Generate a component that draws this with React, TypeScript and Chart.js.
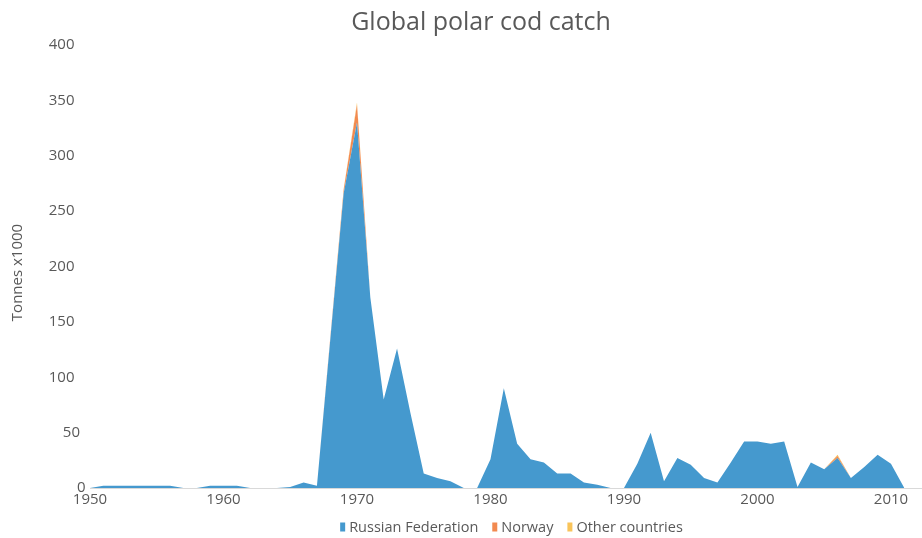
import React, { useEffect, useRef } from "react";
import { Chart, registerables } from "chart.js";

Chart.register(...registerables);

const years = [
  1950, 1951, 1952, 1953, 1954, 1955, 1956, 1957, 1958, 1959,
  1960, 1961, 1962, 1963, 1964, 1965, 1966, 1967, 1968, 1969,
  1970, 1971, 1972, 1973, 1974, 1975, 1976, 1977, 1978, 1979,
  1980, 1981, 1982, 1983, 1984, 1985, 1986, 1987, 1988, 1989,
  1990, 1991, 1992, 1993, 1994, 1995, 1996, 1997, 1998, 1999,
  2000, 2001, 2002, 2003, 2004, 2005, 2006, 2007, 2008, 2009,
  2010, 2011,
];

const russianFederation = [
  0, 2, 2, 2, 2, 2, 2, 0, 0, 2,
  2, 2, 0, 0, 0, 1, 5, 2, 134, 266,
  330, 172, 80, 126, 68, 13, 9, 6, 0, 0,
  26, 90, 40, 26, 23, 13, 13, 5, 3, 0,
  0, 22, 50, 6, 27, 21, 9, 5, 23, 42,
  42, 40, 42, 1, 23, 17, 27, 9, 19, 30,
  22, 0,
];

const norway = [
  0, 0, 0, 0, 0, 0, 0, 0, 0, 0,
  0, 0, 0, 0, 0, 0, 0, 0, 2, 3,
  16, 0, 0, 0, 0, 0, 0, 0, 0, 0,
  0, 0, 0, 0, 0, 0, 0, 0, 0, 0,
  0, 0, 0, 0, 0, 0, 0, 0, 0, 0,
  0, 0, 0, 0, 0, 0, 2, 0, 0, 0,
  0, 0,
];

const otherCountries = [
  0, 0, 0, 0, 0, 0, 0, 0, 0, 0,
  0, 0, 0, 0, 0, 0, 0, 0, 0, 1,
  2, 0, 0, 0, 0, 0, 0, 0, 0, 0,
  0, 0, 0, 0, 0, 0, 0, 0, 0, 0,
  0, 0, 0, 0, 0, 0, 0, 0, 0, 0,
  0, 0, 0, 0, 0, 0, 1, 0, 0, 0,
  0, 0,
];

const seriesNames = ["Russian Federation", "Norway", "Other countries"];
const seriesColors = ["#4599ce", "#f28a50", "#f9c45a"];
const yTickValues = [0, 50, 100, 150, 200, 250, 300, 350, 400];
const chartTitle = "Global polar cod catch";
const yAxisTitle = "Tonnes x1000";

const FONT = "'Open Sans', 'Noto Sans', sans-serif";
const TEXT_COLOR = "#595959";

const toPoints = (vals: number[]) => years.map((x, i) => ({ x, y: vals[i] }));

const textPlugin = {
  id: "customText",
  afterDraw(chart: any) {
    const ctx = chart.ctx;
    const area = chart.chartArea;
    const yScale = chart.scales.y;
    ctx.save();
    // Title
    ctx.fillStyle = TEXT_COLOR;
    ctx.font = `25px ${FONT}`;
    ctx.textAlign = "center";
    ctx.textBaseline = "middle";
    ctx.fillText(chartTitle, 481, 23);

    // Y axis title
    ctx.save();
    ctx.font = `15px ${FONT}`;
    ctx.translate(18, (area.top + area.bottom) / 2 + 6);
    ctx.rotate(-Math.PI / 2);
    ctx.textAlign = "center";
    ctx.textBaseline = "middle";
    ctx.fillText(yAxisTitle, 0, 0);
    ctx.restore();

    // Y tick labels
    ctx.font = `15px ${FONT}`;
    ctx.textAlign = "right";
    ctx.textBaseline = "middle";
    yTickValues.forEach((v) => {
      const label = String(v);
      const y = yScale.getPixelForValue(v);
      const xr = 91 - 5.5 * label.length;
      ctx.fillText(label, xr, y);
    });

    // Legend
    ctx.font = `14.5px ${FONT}`;
    ctx.textAlign = "left";
    const boxW = 5;
    const boxH = 9;
    const gap = 4;
    const itemGap = 14;
    const widths = seriesNames.map((n) => boxW + gap + ctx.measureText(n).width);
    const total = widths.reduce((a, b) => a + b, 0) + itemGap * (widths.length - 1);
    let x = (area.left + area.right) / 2 + 6 - total / 2;
    const ly = 527;
    seriesNames.forEach((n, i) => {
      ctx.fillStyle = seriesColors[i];
      ctx.fillRect(x, ly - boxH / 2, boxW, boxH);
      ctx.fillStyle = TEXT_COLOR;
      ctx.fillText(n, x + boxW + gap, ly + 1);
      x += widths[i] + itemGap;
    });
    ctx.restore();
  },
};

export default function App() {
  const canvasRef = useRef<HTMLCanvasElement | null>(null);

  useEffect(() => {
    document.body.style.margin = "0";
    const canvas = canvasRef.current;
    if (!canvas) return;
    const chart = new Chart(canvas, {
      type: "line",
      data: {
        datasets: [
          {
            label: seriesNames[0],
            data: toPoints(russianFederation),
            backgroundColor: seriesColors[0],
            borderWidth: 0,
            pointRadius: 0,
            fill: "origin",
            tension: 0,
          },
          {
            label: seriesNames[1],
            data: toPoints(norway),
            backgroundColor: seriesColors[1],
            borderWidth: 0,
            pointRadius: 0,
            fill: "-1",
            tension: 0,
          },
          {
            label: seriesNames[2],
            data: toPoints(otherCountries),
            backgroundColor: seriesColors[2],
            borderWidth: 0,
            pointRadius: 0,
            fill: "-1",
            tension: 0,
          },
        ],
      },
      options: {
        animation: false,
        responsive: true,
        maintainAspectRatio: false,
        layout: { padding: { top: 45, right: 1, bottom: 26, left: 0 } },
        plugins: {
          legend: { display: false },
          tooltip: { enabled: false },
          title: { display: false },
        },
        scales: {
          x: {
            type: "linear",
            min: 1950,
            max: 2012.25,
            grid: { display: false, drawTicks: false },
            border: { display: true, color: "#d9d9d9", width: 1 },
            ticks: {
              stepSize: 10,
              includeBounds: false,
              autoSkip: false,
              maxRotation: 0,
              padding: 3,
              color: TEXT_COLOR,
              font: { family: FONT, size: 15 },
              callback: (v: any) => String(v),
            },
          },
          y: {
            stacked: true,
            min: 0,
            max: 400,
            grid: { display: false, drawTicks: false },
            border: { display: false },
            ticks: { display: false, stepSize: 50 },
            title: { display: false },
            afterFit: (s: any) => {
              s.width = 90;
            },
          },
        },
      },
      plugins: [textPlugin],
    });
    return () => chart.destroy();
  }, []);

  return (
    <div style={{ position: "absolute", left: 0, top: 0, width: 922, height: 538 }}>
      <canvas ref={canvasRef} />
    </div>
  );
}
